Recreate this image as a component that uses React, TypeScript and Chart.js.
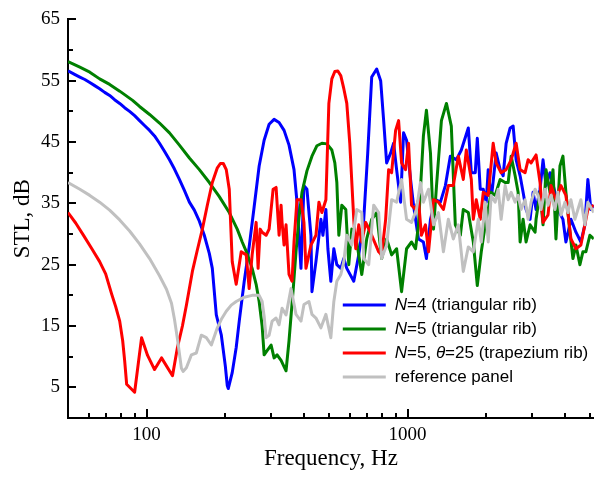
import React, { useEffect, useRef } from 'react';
import { Chart, registerables } from 'chart.js';

Chart.register(...registerables);

// [frequency Hz, STL dB]
const blueSeries: number[][] = [
  [50,56.6],[53.2,56.0],[55.5,55.6],[58.0,55.2],[60.6,54.7],[63.3,54.2],[66.1,53.7],[69.1,53.1],[72.2,52.6],[75.4,51.9],[78.9,51.3],[82.4,50.6],[86.1,50.0],[90.0,49.3],[94.0,48.5],[98.2,47.7],[102.7,46.9],[107.3,46.0],[112.1,44.8],[117.1,43.5],[122.4,42.1],[127.9,40.6],[133.6,38.9],[139.6,37.1],[145.9,35.2],[152.4,33.9],[159.3,32.1],[166.4,29.8],[174.0,26.8],[178.6,24.4],[185,16.8],[193.4,13.5],[200.3,8.5],[203.8,5.3],[205.6,4.8],[212.9,7.4],[220.5,11.5],[226.5,15.8],[236.7,22.3],[247.2,27.9],[258.3,34.4],[270,41.1],[282.1,45.3],[294.8,47.9],[308,48.7],[321.9,48.2],[336.4,46.9],[351.4,44.5],[367.2,40.5],[377,35.2],[390.5,24.4],[400.9,37.9],[411.6,37.3],[426.4,29.8],[430.2,20.6],[445.6,25.5],[465.6,32.4],[473.9,29.8],[486.5,34.0],[495.1,27.6],[508.2,22.3],[521.8,27.6],[535.8,25.0],[555,24.4],[569.8,26.0],[585,24.4],[622.1,22.3],[650.1,26.6],[679.3,32.4],[703.6,43.2],[728.8,55.6],[761.5,56.9],[788.7,55.0],[809.8,48.5],[831.4,41.6],[861.2,43.2],[884.2,44.8],[907.8,40.5],[940.3,35.2],[965.4,46.5],[991.2,45.3],[1026.7,38.9],[1054,34.7],[1101,29.2],[1150,28.7],[1181,26.0],[1224,32.4],[1279,35.6],[1336,35.2],[1396,37.9],[1458,42.7],[1537,42.1],[1607,43.7],[1709,47.3],[1755,40.0],[1817,40.0],[1850,45.6],[1899,37.3],[1950,37.3],[2002,35.2],[2037,40.5],[2091,35.6],[2185,43.2],[2263,40.5],[2324,39.5],[2386,44.8],[2472,47.3],[2538,47.6],[2606,42.1],[2699,39.5],[2771,36.8],[2845,34.0],[2947,32.4],[3026,36.8],[3107,34.0],[3218,37.3],[3304,42.1],[3392,37.9],[3513,40.0],[3671,36.8],[3769,34.0],[3938,32.4],[4043,28.7],[4226,32.4],[4416,30.3],[4614,28.7],[4779,31.5],[4907,38.9],[5038,34.0],[5170,34.7]
];

const greenSeries: number[][] = [
  [50,58.1],[55.5,57.2],[60.6,56.4],[66.1,55.3],[72.2,54.4],[78.9,53.3],[88.4,51.8],[94,50.8],[102.7,49.5],[112.1,48.1],[122.4,46.5],[133.6,44.5],[145.9,42.4],[159.3,40.5],[174,38.4],[190,36.1],[207.4,33.5],[222.5,30.8],[232.5,28.7],[243,26.8],[253.8,24.4],[262.9,21.8],[270,19.0],[277.2,15.0],[282.1,10.3],[289.6,11.0],[300,11.9],[308,9.8],[316.3,10.3],[327.6,9.4],[342.3,7.7],[351.4,12.6],[364,20.6],[373.7,27.1],[383.7,32.7],[394,36.8],[411.6,40.3],[430.2,42.7],[449.6,44.4],[469.7,44.8],[490.8,44.7],[512.7,43.7],[526.4,41.6],[535.8,38.4],[545.3,29.8],[559.9,34.7],[579.9,34.0],[595.4,25.0],[611.3,30.8],[638.7,28.7],[667.5,23.4],[697.4,29.2],[728.8,32.4],[761.5,33.5],[795.7,26.0],[831.4,29.2],[868.8,26.6],[907.8,27.6],[948.6,20.6],[991.2,27.6],[1035.7,28.7],[1072.7,27.6],[1101,31.5],[1150,46.0],[1181,50.2],[1224,43.2],[1257,30.8],[1291,37.9],[1348,48.5],[1409,51.3],[1471,47.6],[1524,31.5],[1593,29.8],[1635,34.0],[1709,33.5],[1786,28.7],[1850,21.6],[1916,27.1],[1984,31.5],[2037,34.0],[2091,36.8],[2166,36.3],[2263,38.9],[2365,38.4],[2429,38.4],[2494,42.7],[2583,39.5],[2652,36.8],[2699,28.7],[2771,32.4],[2845,28.7],[2947,31.5],[3080,30.3],[3107,32.4],[3218,36.8],[3304,31.5],[3392,40.5],[3513,36.8],[3607,40.5],[3703,29.2],[3836,41.1],[3938,42.7],[4043,36.8],[4189,30.3],[4301,26.0],[4416,28.2],[4574,25.0],[4696,27.1],[4821,27.1],[4994,29.8],[5170,29.2]
];

const redSeries: number[][] = [
  [50,33.5],[53.5,31.8],[57.5,29.7],[61.7,27.6],[66.1,25.5],[69.7,23.5],[73.5,20.2],[76.1,18.2],[78.9,15.8],[81.0,12.6],[82.4,9.4],[83.9,5.5],[90,4.2],[95.7,13.1],[100.9,10.2],[107.3,7.9],[114.1,9.8],[125.7,6.9],[131.3,11.5],[137.2,15.0],[142.1,18.4],[149.8,23.9],[156.5,27.4],[163.6,30.8],[170.9,34.7],[178.6,38.4],[186.7,40.8],[191.7,41.5],[196.8,41.5],[202.0,40.5],[207.4,37.3],[212.9,25.5],[220.5,21.8],[230.5,27.1],[240.9,26.6],[247.2,21.1],[253.8,26.6],[262.9,31.9],[267.5,24.4],[272.4,30.8],[277.2,30.3],[287.1,29.8],[294.8,30.8],[305.4,37.3],[313.5,37.6],[321.9,29.8],[327.6,34.7],[330.5,31.9],[336.4,28.2],[342.3,31.5],[351.4,23.4],[360.8,22.3],[367.2,28.7],[377,35.6],[390.5,35.6],[400.9,31.9],[408,24.4],[426.4,28.2],[445.6,29.8],[457.5,35.2],[469.7,33.5],[486.5,35.6],[499.4,51.3],[512.7,55.3],[526.4,56.5],[540.5,56.6],[555,55.8],[569.8,53.7],[585,51.3],[600.6,44.8],[622.1,32.4],[633.1,27.6],[650.1,31.5],[667.5,28.7],[691.3,31.9],[728.8,29.8],[775,27.1],[795.7,26.6],[824.2,32.4],[846.2,40.5],[868.8,40.0],[899.9,46.9],[923.9,48.5],[948.6,41.6],[982.5,40.5],[1008.8,44.8],[1035.7,34.7],[1072.7,34.0],[1101,35.6],[1130,29.8],[1171,31.5],[1203,27.1],[1257,35.6],[1313,35.2],[1372,34.0],[1433,37.9],[1497,37.9],[1565,42.7],[1635,38.9],[1679,43.7],[1755,38.9],[1786,32.4],[1833,35.6],[1899,32.4],[1950,36.8],[2037,36.3],[2128,44.8],[2185,41.6],[2283,40.0],[2386,40.5],[2494,42.1],[2606,44.8],[2699,40.5],[2820,40.0],[2896,42.1],[2973,41.6],[3107,42.9],[3218,38.4],[3304,31.9],[3452,33.1],[3544,37.9],[3703,35.6],[3870,37.9],[4043,36.3],[4226,29.2],[4416,27.6],[4614,28.2],[4779,31.5],[4907,34.0],[5170,34.7]
];

const graySeries: number[][] = [
  [50,38.4],[55.5,37.3],[60.6,36.3],[66.1,35.2],[72.2,33.9],[78.9,32.3],[86.1,30.5],[94,28.4],[102.7,26.0],[112.1,23.2],[119.2,21.0],[124.6,18.7],[127.9,16.1],[131.3,12.9],[136,8.1],[138,7.6],[142.1,8.2],[148.5,10.3],[155.1,10.6],[162.1,13.5],[169.4,13.1],[177.1,11.9],[186.7,14.7],[193.4,16.1],[202,17.4],[211.1,18.4],[220.5,19.0],[236.7,19.7],[253.8,20.0],[270,20.0],[277.2,19.0],[282.1,16.6],[287.1,13.1],[294.8,13.5],[302.7,15.8],[313.5,16.3],[321.9,15.2],[330.5,17.9],[342.3,16.8],[357.6,21.1],[373.7,16.9],[390.5,15.8],[400.9,18.5],[419,19.0],[430.2,16.9],[445.6,16.3],[465.6,14.7],[486.5,16.9],[508.2,13.1],[521.8,19.0],[535.8,22.3],[555,23.4],[569.8,25.5],[585,29.8],[611.3,28.2],[638.7,34.0],[667.5,33.5],[679.3,26.0],[709.8,25.0],[741.7,34.7],[775,33.5],[795.7,26.0],[831.4,28.2],[868.8,35.6],[907.8,35.2],[948.6,38.9],[991.2,32.4],[1035.7,31.9],[1082,34.0],[1120,38.4],[1150,35.2],[1203,37.3],[1257,31.5],[1313,33.5],[1372,27.1],[1433,32.4],[1497,29.2],[1565,31.5],[1635,23.9],[1709,27.9],[1786,27.1],[1866,32.4],[1916,28.7],[1984,35.2],[2037,28.7],[2091,36.3],[2166,35.2],[2224,37.3],[2283,32.4],[2365,37.9],[2429,35.6],[2494,36.8],[2583,35.2],[2652,36.3],[2723,34.0],[2820,35.6],[2896,32.4],[2973,35.2],[3080,37.3],[3162,36.3],[3247,34.0],[3362,37.3],[3452,34.7],[3544,36.3],[3671,34.0],[3769,36.8],[3870,33.1],[4008,35.2],[4116,33.5],[4226,35.6],[4377,32.4],[4494,34.0],[4614,35.6],[4779,31.5],[4907,35.2],[5170,33.5]
];

const xTickValues = [60, 70, 80, 90, 100, 200, 300, 400, 500, 600, 700, 800, 900, 1000, 2000, 3000, 4000, 5000];
const xLabeledTicks = [100, 1000];
const yLabeledTicks = [5, 15, 25, 35, 45, 55, 65];

type Seg = { t: string; i?: boolean };
const legendEntries: { color: string; segs: Seg[] }[] = [
  { color: '#0000ff', segs: [{ t: 'N', i: true }, { t: '=4 (triangular rib)' }] },
  { color: '#008000', segs: [{ t: 'N', i: true }, { t: '=5 (triangular rib)' }] },
  { color: '#ff0000', segs: [{ t: 'N', i: true }, { t: '=5, ' }, { t: 'θ', i: true }, { t: '=25 (trapezium rib)' }] },
  { color: '#c0c0c0', segs: [{ t: 'reference panel' }] },
];

const toPoints = (s: number[][]) => s.map(([x, y]) => ({ x, y }));

const overlayPlugin = {
  id: 'overlay',
  afterDraw(chart: any) {
    const { ctx, chartArea, scales } = chart;
    const xs = scales.x;
    const ys = scales.y;
    ctx.save();
    ctx.strokeStyle = '#000';
    ctx.lineWidth = 2;
    ctx.beginPath();
    ys.ticks.forEach((t: any) => {
      if (t.value <= 0) return;
      const y = Math.round(ys.getPixelForValue(t.value));
      const len = yLabeledTicks.includes(t.value) ? 8 : 5;
      ctx.moveTo(chartArea.left, y);
      ctx.lineTo(chartArea.left + len, y);
    });
    xTickValues.forEach((v) => {
      const x = Math.round(xs.getPixelForValue(v));
      const len = xLabeledTicks.includes(v) ? 9 : 5;
      ctx.moveTo(x, chartArea.bottom);
      ctx.lineTo(x, chartArea.bottom - len);
    });
    ctx.stroke();

    // legend
    const lx0 = chartArea.right - 251;
    const lx1 = chartArea.right - 208;
    const tx = chartArea.right - 199;
    const y0 = chartArea.bottom - 113;
    const dy = 24;
    const family = '"Liberation Sans", Arial, sans-serif';
    ctx.textBaseline = 'middle';
    ctx.textAlign = 'left';
    legendEntries.forEach((e, k) => {
      const y = y0 + k * dy;
      ctx.strokeStyle = e.color;
      ctx.lineWidth = 3;
      ctx.beginPath();
      ctx.moveTo(lx0, y);
      ctx.lineTo(lx1, y);
      ctx.stroke();
      let x = tx;
      ctx.fillStyle = '#000';
      e.segs.forEach((s) => {
        ctx.font = `${s.i ? 'italic ' : ''}17px ${family}`;
        ctx.fillText(s.t, x, y);
        x += ctx.measureText(s.t).width;
      });
    });
    ctx.restore();
  },
};

export default function App() {
  const ref = useRef<HTMLCanvasElement>(null);
  useEffect(() => {
    if (!ref.current) return;
    const serif = '"Liberation Serif", "Times New Roman", serif';
    const mk = (label: string, s: number[][], color: string, order: number) => ({
      label,
      data: toPoints(s),
      borderColor: color,
      backgroundColor: color,
      borderWidth: 3,
      pointRadius: 0,
      tension: 0,
      borderJoinStyle: 'round' as const,
      fill: false,
      order,
    });
    const chart = new Chart(ref.current, {
      type: 'line',
      data: {
        datasets: [
          mk('N=4 (triangular rib)', blueSeries, '#0000ff', 4),
          mk('N=5 (triangular rib)', greenSeries, '#008000', 3),
          mk('N=5, θ=25 (trapezium rib)', redSeries, '#ff0000', 2),
          mk('reference panel', graySeries, '#c0c0c0', 1),
        ],
      },
      options: {
        animation: false,
        responsive: false,
        layout: { padding: { top: 15, right: 0, left: 0, bottom: 0 } },
        plugins: { legend: { display: false }, tooltip: { enabled: false } },
        scales: {
          x: {
            type: 'logarithmic',
            min: 50,
            max: 5170,
            afterBuildTicks: (s: any) => {
              s.ticks = xTickValues.map((v) => ({ value: v }));
            },
            afterFit: (s: any) => {
              s.height = 59;
            },
            grid: { display: false, drawTicks: false },
            border: { display: true, color: '#000', width: 2 },
            ticks: {
              autoSkip: false,
              maxRotation: 0,
              padding: 6,
              color: '#000',
              font: { family: serif, size: 19 },
              callback: (v: any) => (xLabeledTicks.includes(Number(v)) ? String(v) : ''),
            },
            title: {
              display: true,
              text: 'Frequency, Hz',
              color: '#000',
              font: { family: serif, size: 23 },
              padding: { top: 0, bottom: 4 },
            },
          },
          y: {
            type: 'linear',
            min: 0,
            max: 65,
            afterFit: (s: any) => {
              s.width = 68;
            },
            grid: { display: false, drawTicks: false },
            border: { display: true, color: '#000', width: 2 },
            ticks: {
              stepSize: 5,
              autoSkip: false,
              padding: 8,
              color: '#000',
              font: { family: serif, size: 19 },
              callback: (v: any) => (yLabeledTicks.includes(Number(v)) ? String(v) : ''),
            },
            title: {
              display: true,
              text: 'STL, dB',
              color: '#000',
              font: { family: serif, size: 23 },
              padding: { top: 9, bottom: 0 },
            },
          },
        },
      },
      plugins: [overlayPlugin],
    });
    return () => chart.destroy();
  }, []);
  return (
    <div style={{ position: 'absolute', left: 0, top: 0, width: 596, height: 477, background: '#fff' }}>
      <canvas ref={ref} width={596} height={477} />
    </div>
  );
}
